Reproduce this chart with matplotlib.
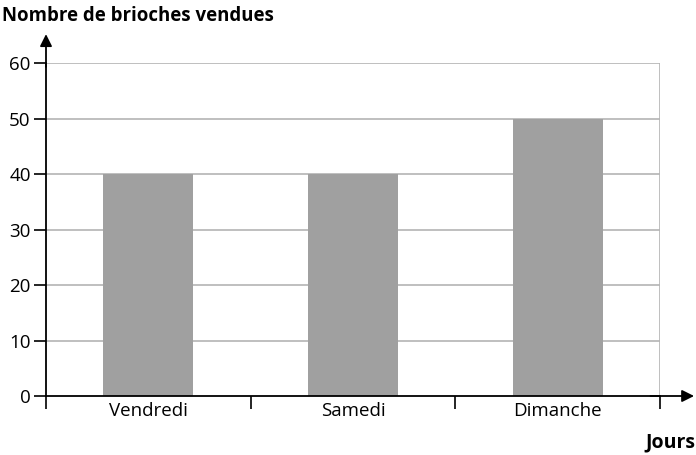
import matplotlib
matplotlib.use("Agg")
import matplotlib.pyplot as plt

categories = ["Vendredi", "Samedi", "Dimanche"]
values = [40, 40, 50]
yticks = [0, 10, 20, 30, 40, 50, 60]

plt.rcParams['font.family'] = ['Open Sans', 'DejaVu Sans']

W, H = 696, 455
fig = plt.figure(figsize=(W/100, H/100), dpi=100)
x0, x1 = 46, 660
y0, y1 = 396, 63
ax = fig.add_axes([x0/W, (H-y0)/H, (x1-x0)/W, (y0-y1)/H])

xs = [i + 0.5 for i in range(len(categories))]
ax.bar(xs, values, width=0.44, color="#a0a0a0", zorder=2)
ax.set_xlim(0, len(categories))
ax.set_ylim(0, 60)

for v in yticks[1:]:
    ax.axhline(v, color="#b4b4b4", lw=1.2, zorder=1)
ax.axvline(len(categories), color="#b4b4b4", lw=1.2, zorder=1)

for s in ["top", "right"]:
    ax.spines[s].set_visible(False)
ax.spines["left"].set_linewidth(1.3)
ax.spines["bottom"].set_linewidth(1.3)
ax.spines["left"].set_zorder(3)
ax.spines["bottom"].set_zorder(3)

ax.set_yticks(yticks)
ax.set_yticklabels([str(v) for v in yticks], fontsize=13.5)
ax.tick_params(axis="y", length=9, width=1.2, pad=2)

ax.set_xticks(range(len(categories) + 1))
ax.set_xticklabels([])
ax.set_xticks(xs, minor=True)
ax.set_xticklabels(categories, minor=True, fontsize=13.5)
ax.tick_params(axis="x", which="major", length=9, width=1.2)
ax.tick_params(axis="x", which="minor", length=0, pad=4)

# arrows
ax.annotate("", xy=(0, 1.095), xytext=(0, 0.98), xycoords="axes fraction",
            arrowprops=dict(arrowstyle="-|>", color="black", lw=1.3,
                            mutation_scale=18), annotation_clip=False)
ax.annotate("", xy=(1.06, 0), xytext=(0.98, 0), xycoords="axes fraction",
            arrowprops=dict(arrowstyle="-|>", color="black", lw=1.3,
                            mutation_scale=18), annotation_clip=False)

fig.text(2/W, 1 - 16/H, "Nombre de brioches vendues", fontsize=13.4,
         fontweight="bold", ha="left", va="center")
fig.text(695/W, 1 - 442/H, "Jours", fontsize=14, fontweight="bold",
         ha="right", va="center")

fig.savefig("out.png", dpi=100)
